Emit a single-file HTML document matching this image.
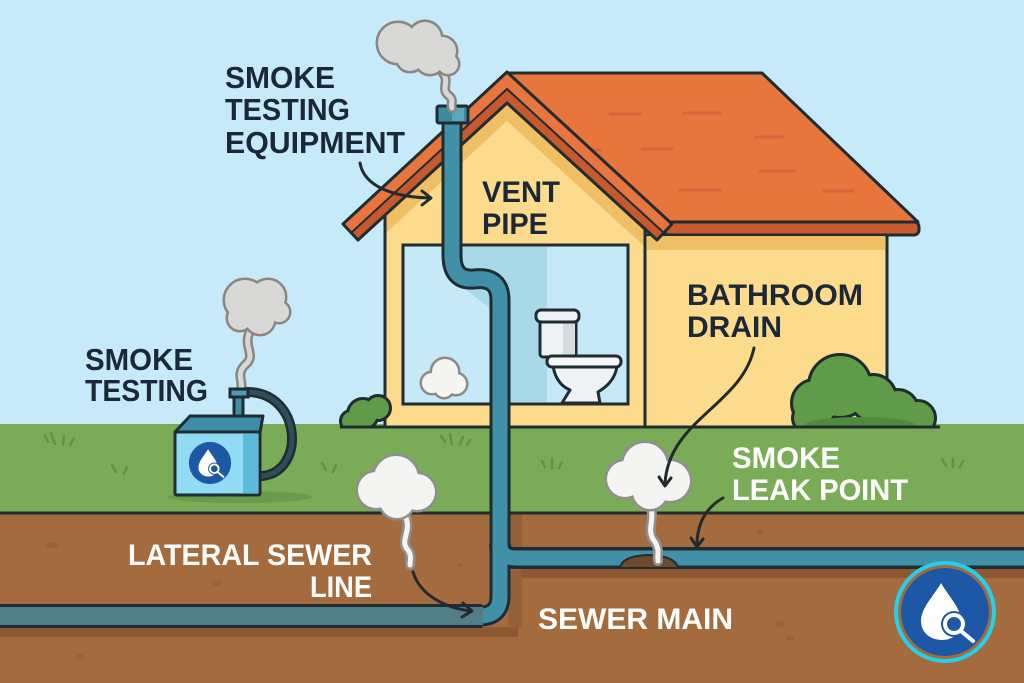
<!DOCTYPE html>
<html><head><meta charset="utf-8"><style>
html,body{margin:0;padding:0;background:#c6eaf9;}
svg{display:block;}
text{font-family:"Liberation Sans",Arial,sans-serif;font-weight:bold;}
</style></head><body>
<svg width="1024" height="683" viewBox="0 0 1024 683" xmlns="http://www.w3.org/2000/svg">
<defs>
<clipPath id="abv"><rect x="0" y="0" width="1024" height="428"/></clipPath>
<g id="logo">
<circle r="44" fill="#1c58a6"/>
<path d="M-4,-29 C-12,-15 -24,-4 -24,9 C-24,21 -14,28 -3,28 C9,28 16,20 16,9 C16,-4 4,-15 -4,-29 Z" fill="#fff"/>
<circle cx="9" cy="12" r="13" fill="#1c58a6"/>
<circle cx="9" cy="12" r="9" fill="#1c58a6" stroke="#fff" stroke-width="4"/>
<line x1="16" y1="19" x2="28" y2="29" stroke="#fff" stroke-width="4" stroke-linecap="round"/>
</g>
</defs>
<!-- sky -->
<rect width="1024" height="683" fill="#c6eaf9"/>
<!-- grass -->
<rect x="0" y="424" width="1024" height="90" fill="#7aab56"/>
<!-- dirt -->
<rect x="0" y="513" width="1024" height="170" fill="#a46b3f"/>
<rect x="0" y="627" width="518" height="10" fill="#8e5833"/>
<rect x="508" y="568" width="516" height="10" fill="#8e5833"/>
<rect x="508" y="514" width="14" height="34" fill="#93603a"/>
<rect x="508" y="568" width="14" height="60" fill="#93603a"/>
<line x1="0" y1="513" x2="1024" y2="513" stroke="#1f2d33" stroke-width="3"/>
<!-- dirt specks -->
<g fill="#93603a" opacity="0.7">
<ellipse cx="52" cy="545" rx="6" ry="3"/><ellipse cx="217" cy="583" rx="5" ry="3"/><ellipse cx="80" cy="657" rx="4" ry="3"/>
<ellipse cx="760" cy="532" rx="4" ry="3"/><ellipse cx="780" cy="624" rx="5" ry="3"/><ellipse cx="790" cy="638" rx="4" ry="3"/>
<ellipse cx="460" cy="565" rx="3" ry="2"/>
</g>
<!-- grass tufts -->
<g stroke="#5f9446" stroke-width="2.5" fill="none" stroke-linecap="round">
<path d="M48,442 l-3,-6 M55,444 l-4,-11 M63,444 l1,-8 M70,445 l4,-7"/>
<path d="M116,472 l-4,-7 M124,474 l3,-7"/>
<path d="M326,470 l-4,-7 M333,472 l3,-7"/>
<path d="M445,442 l-4,-6 M452,444 l-2,-10 M460,444 l3,-7 M467,445 l3,-5"/>
<path d="M545,467 l-3,-6 M552,468 l0,-9 M559,468 l3,-6"/>
<path d="M670,428 l-2,-6 M677,428 l3,-6"/>
<path d="M946,466 l-4,-7 M953,467 l0,-8 M960,467 l3,-6"/>
</g>
<!-- right roof plane -->
<polygon points="507,73 762,73 918,222 668,222" fill="#e8763c" stroke="#1f2d33" stroke-width="3" stroke-linejoin="round"/>
<g stroke="#d0643a" stroke-width="3" stroke-linecap="round" opacity="0.8">
<line x1="684" y1="113" x2="720" y2="113"/><line x1="756" y1="137" x2="782" y2="137"/>
<line x1="642" y1="149" x2="672" y2="149"/><line x1="760" y1="171" x2="795" y2="171"/>
<line x1="680" y1="190" x2="720" y2="190"/><line x1="824" y1="191" x2="853" y2="191"/>
<line x1="610" y1="114" x2="640" y2="114"/><line x1="570" y1="150" x2="600" y2="150"/>
</g>
<!-- eave -->
<rect x="664" y="222" width="255" height="13" rx="5" fill="#c85c30" stroke="#1f2d33" stroke-width="3"/>
<!-- right wall -->
<rect x="645" y="235" width="242" height="192" fill="#fcdc8c" stroke="#1f2d33" stroke-width="3"/>
<rect x="647" y="236" width="238" height="14" fill="#efc063"/>
<!-- gable wall -->
<polygon points="385,427 385,215 507,102 645,229 645,427" fill="#fcdc8c" stroke="#1f2d33" stroke-width="3"/>
<polygon points="386,215 507,102 644,229 644,246 507,121 386,233" fill="#efc063"/>
<line x1="385" y1="215" x2="385" y2="427" stroke="#1f2d33" stroke-width="3"/>
<line x1="645" y1="229" x2="645" y2="427" stroke="#1f2d33" stroke-width="3"/>
<!-- window -->
<rect x="403" y="245" width="225" height="159" fill="#c6e9f8" stroke="#1f2d33" stroke-width="3"/>
<polygon points="456,247 547,247 547,402 505,402 505,320 456,282" fill="#a9d9e8"/>
<rect x="403" y="245" width="225" height="159" fill="none" stroke="#1f2d33" stroke-width="3"/>
<!-- toilet -->
<rect x="540" y="316" width="36" height="41" rx="3" fill="#eef2f3" stroke="#1f2d33" stroke-width="3"/>
<rect x="563" y="318" width="12" height="37" fill="#d4dcdf"/>
<rect x="536" y="310" width="43" height="12" rx="5" fill="#eef2f3" stroke="#1f2d33" stroke-width="3"/>
<path d="M553,366 Q556,384 570,390 L562,403 L600,403 L598,392 Q615,382 617,366 Z" fill="#eef2f3" stroke="#1f2d33" stroke-width="3" stroke-linejoin="round"/>
<rect x="547" y="356" width="74" height="11" rx="5" fill="#f6f8f8" stroke="#1f2d33" stroke-width="3"/>
<!-- window cloud -->
<g stroke="#8d8a86" stroke-width="5">
<circle cx="445" cy="372" r="13"/><circle cx="432" cy="383" r="10"/><circle cx="456" cy="384" r="10"/><circle cx="444" cy="388" r="9"/>
</g>
<g fill="#f5f5f3">
<circle cx="445" cy="372" r="13"/><circle cx="432" cy="383" r="10"/><circle cx="456" cy="384" r="10"/><circle cx="444" cy="388" r="9"/>
</g>
<!-- gable roof band -->
<polygon points="343,224 507,72 672,224 657,240 507,103 358,240" fill="#c65a2e"/>
<polygon points="343,224 507,72 672,224 664,233 507,89 351,233" fill="#e8763c"/>
<polyline points="351,233 507,89 664,233" fill="none" stroke="#1f2d33" stroke-width="2"/>
<polygon points="343,224 507,72 672,224 657,240 507,103 358,240" fill="none" stroke="#1f2d33" stroke-width="3" stroke-linejoin="round"/>
<!-- bushes -->
<g clip-path="url(#abv)">
<g stroke="#1f2d33" stroke-width="6">
<circle cx="363" cy="414" r="14"/><circle cx="378" cy="408" r="11"/><circle cx="351" cy="421" r="9"/>
<circle cx="840" cy="386" r="30"/><circle cx="815" cy="403" r="22"/><circle cx="873" cy="398" r="22"/><circle cx="898" cy="410" r="19"/><circle cx="918" cy="418" r="16"/><circle cx="807" cy="418" r="13"/>
</g>
<g fill="#5f9b48">
<circle cx="363" cy="414" r="14"/><circle cx="378" cy="408" r="11"/><circle cx="351" cy="421" r="9"/>
<circle cx="840" cy="386" r="30"/><circle cx="815" cy="403" r="22"/><circle cx="873" cy="398" r="22"/><circle cx="898" cy="410" r="19"/><circle cx="918" cy="418" r="16"/><circle cx="807" cy="418" r="13"/>
</g>
<ellipse cx="860" cy="425" rx="55" ry="8" fill="#4f8a3d"/>
</g>
<line x1="340" y1="427" x2="940" y2="427" stroke="#1f2d33" stroke-width="3"/>
<!-- pipes -->
<g fill="none" stroke-linejoin="round">
<path d="M452,112 V255 Q452,281 474,279 Q500,276 500,300 V596 Q500,616 480,616 H-20" stroke="#1f2d33" stroke-width="21"/>
<path d="M500,544 Q500,558 516,558 H1040" stroke="#1f2d33" stroke-width="22"/>
<path d="M-20,616 H482" stroke="#1f2d33" stroke-width="24"/>
<path d="M452,112 V255 Q452,281 474,279 Q500,276 500,300 V596 Q500,616 480,616 H470" stroke="#4091a7" stroke-width="15"/>
<path d="M500,544 Q500,558 516,558 H1040" stroke="#4091a7" stroke-width="15"/>
<path d="M-20,616 H483" stroke="#527f86" stroke-width="18"/>
</g>
<!-- vent cap -->
<rect x="437" y="106" width="31" height="17" rx="2" fill="#3a8aa0" stroke="#1f2d33" stroke-width="3"/>
<rect x="452" y="108" width="12" height="13" fill="#5aa6ba"/>
<!-- leak mound -->
<path d="M620,568 Q622,556 648,555 Q676,556 678,568 Z" fill="#6e4a2c" stroke="#1f2d33" stroke-width="2"/>
<!-- top vent smoke -->
<path d="M440,70 C452,80 440,88 448,95 C455,100 450,104 452,108" fill="none" stroke="#8b8680" stroke-width="10" stroke-linecap="round"/>
<path d="M440,70 C452,80 440,88 448,95 C455,100 450,104 452,108" fill="none" stroke="#d8d8d6" stroke-width="5" stroke-linecap="round"/>
<g stroke="#8b8680" stroke-width="5">
<circle cx="398" cy="43" r="20"/><circle cx="425" cy="38" r="16"/><circle cx="442" cy="51" r="14"/><circle cx="448" cy="64" r="10"/><circle cx="430" cy="60" r="14"/><circle cx="410" cy="58" r="13"/>
</g>
<g fill="#d8d8d6">
<circle cx="398" cy="43" r="20"/><circle cx="425" cy="38" r="16"/><circle cx="442" cy="51" r="14"/><circle cx="448" cy="64" r="10"/><circle cx="430" cy="60" r="14"/><circle cx="410" cy="58" r="13"/>
</g>
<!-- machine smoke -->
<path d="M252,328 C240,345 258,355 245,365 C235,375 245,382 240,392" fill="none" stroke="#8b8680" stroke-width="10" stroke-linecap="round"/>
<path d="M252,328 C240,345 258,355 245,365 C235,375 245,382 240,392" fill="none" stroke="#d8d8d6" stroke-width="5" stroke-linecap="round"/>
<g stroke="#8b8680" stroke-width="5">
<circle cx="245" cy="300" r="20"/><circle cx="268" cy="297" r="17"/><circle cx="279" cy="312" r="10"/><circle cx="260" cy="320" r="14"/><circle cx="240" cy="318" r="12"/>
</g>
<g fill="#d8d8d6">
<circle cx="245" cy="300" r="20"/><circle cx="268" cy="297" r="17"/><circle cx="279" cy="312" r="10"/><circle cx="260" cy="320" r="14"/><circle cx="240" cy="318" r="12"/>
</g>
<!-- ground clouds -->
<g fill="none" stroke-linecap="round">
<path d="M403,512 C415,530 398,540 408,550 C412,556 410,560 410,565" stroke="#8f8f8f" stroke-width="10"/>
<path d="M403,512 C415,530 398,540 408,550 C412,556 410,560 410,565" stroke="#f4f4f2" stroke-width="5"/>
<path d="M650,505 C656,520 645,530 655,542 C660,550 657,555 658,561" stroke="#8f8f8f" stroke-width="10"/>
<path d="M650,505 C656,520 645,530 655,542 C660,550 657,555 658,561" stroke="#f4f4f2" stroke-width="5"/>
</g>
<g stroke="#8f8f8f" stroke-width="5">
<circle cx="396" cy="478" r="22"/><circle cx="376" cy="490" r="18"/><circle cx="417" cy="492" r="18"/><circle cx="397" cy="501" r="17"/>
<circle cx="645" cy="465" r="22"/><circle cx="625" cy="479" r="18"/><circle cx="670" cy="481" r="20"/><circle cx="650" cy="492" r="17"/>
</g>
<g fill="#f4f4f2">
<circle cx="396" cy="478" r="22"/><circle cx="376" cy="490" r="18"/><circle cx="417" cy="492" r="18"/><circle cx="397" cy="501" r="17"/>
<circle cx="645" cy="465" r="22"/><circle cx="625" cy="479" r="18"/><circle cx="670" cy="481" r="20"/><circle cx="650" cy="492" r="17"/>
</g>
<!-- smoke machine -->
<ellipse cx="240" cy="497" rx="72" ry="6" fill="#6a9b4b"/>
<path d="M247,392 C302,392 306,472 262,476" fill="none" stroke="#1f2d33" stroke-width="10" stroke-linecap="round"/>
<path d="M247,392 C302,392 306,472 262,476" fill="none" stroke="#2f4d5a" stroke-width="5" stroke-linecap="round"/>
<rect x="234" y="395" width="9" height="22" fill="#3d8fa8" stroke="#1f2d33" stroke-width="3"/>
<rect x="230" y="389" width="18" height="8" fill="#4a9bb3" stroke="#1f2d33" stroke-width="3"/>
<polygon points="175,432 190,416 263,416 260,432" fill="#3d8fa8" stroke="#1f2d33" stroke-width="3" stroke-linejoin="round"/>
<rect x="175" y="432" width="85" height="63" rx="2" fill="#8fdcf4" stroke="#1f2d33" stroke-width="3"/>
<rect x="243" y="434" width="15" height="59" fill="#5bbcd9"/>
<rect x="175" y="432" width="85" height="63" rx="2" fill="none" stroke="#1f2d33" stroke-width="3"/>
<use href="#logo" transform="translate(210,463) scale(0.48)"/>
<!-- bottom logo -->
<circle cx="945" cy="612" r="49" fill="#a46b3f" stroke="#22d0ec" stroke-width="4"/>
<use href="#logo" transform="translate(945,612)"/>
<!-- arrows -->
<g fill="none" stroke="#232a2e" stroke-width="3" stroke-linecap="round" stroke-linejoin="round">
<path d="M360,163 C364,186 392,197 430,198"/><path d="M422,191 L431,198 L422,205"/>
<path d="M413,572 C420,595 445,608 471,611"/><path d="M463,603 L472,611 L462,617"/>
<path d="M754,348 C742,405 668,420 665,484"/><path d="M659,477 L665,486 L671,478"/>
<path d="M723,498 C705,508 697,525 697,545"/><path d="M691,538 L697,547 L703,539"/>
</g>
<!-- labels -->
<g fill="#1b2838" font-size="31">
<text x="225" y="88" textLength="110" lengthAdjust="spacingAndGlyphs">SMOKE</text>
<text x="225" y="120" textLength="125" lengthAdjust="spacingAndGlyphs">TESTING</text>
<text x="225" y="153" textLength="180" lengthAdjust="spacingAndGlyphs">EQUIPMENT</text>
<text x="482" y="202" textLength="78" lengthAdjust="spacingAndGlyphs" font-size="30">VENT</text>
<text x="482" y="234" textLength="66" lengthAdjust="spacingAndGlyphs" font-size="30">PIPE</text>
<text x="687" y="305" textLength="176" lengthAdjust="spacingAndGlyphs" font-size="30">BATHROOM</text>
<text x="687" y="337" textLength="95" lengthAdjust="spacingAndGlyphs" font-size="30">DRAIN</text>
<text x="85" y="370" textLength="108" lengthAdjust="spacingAndGlyphs" font-size="31">SMOKE</text>
<text x="85" y="401" textLength="123" lengthAdjust="spacingAndGlyphs" font-size="31">TESTING</text>
</g>
<g fill="#ffffff" font-size="30">
<text x="732" y="468" textLength="108" lengthAdjust="spacingAndGlyphs">SMOKE</text>
<text x="732" y="500" textLength="176" lengthAdjust="spacingAndGlyphs">LEAK POINT</text>
<text x="128" y="565" textLength="244" lengthAdjust="spacingAndGlyphs">LATERAL SEWER</text>
<text x="310" y="597" textLength="62" lengthAdjust="spacingAndGlyphs">LINE</text>
<text x="538" y="629" textLength="195" lengthAdjust="spacingAndGlyphs">SEWER MAIN</text>
</g>
</svg>
</body></html>
